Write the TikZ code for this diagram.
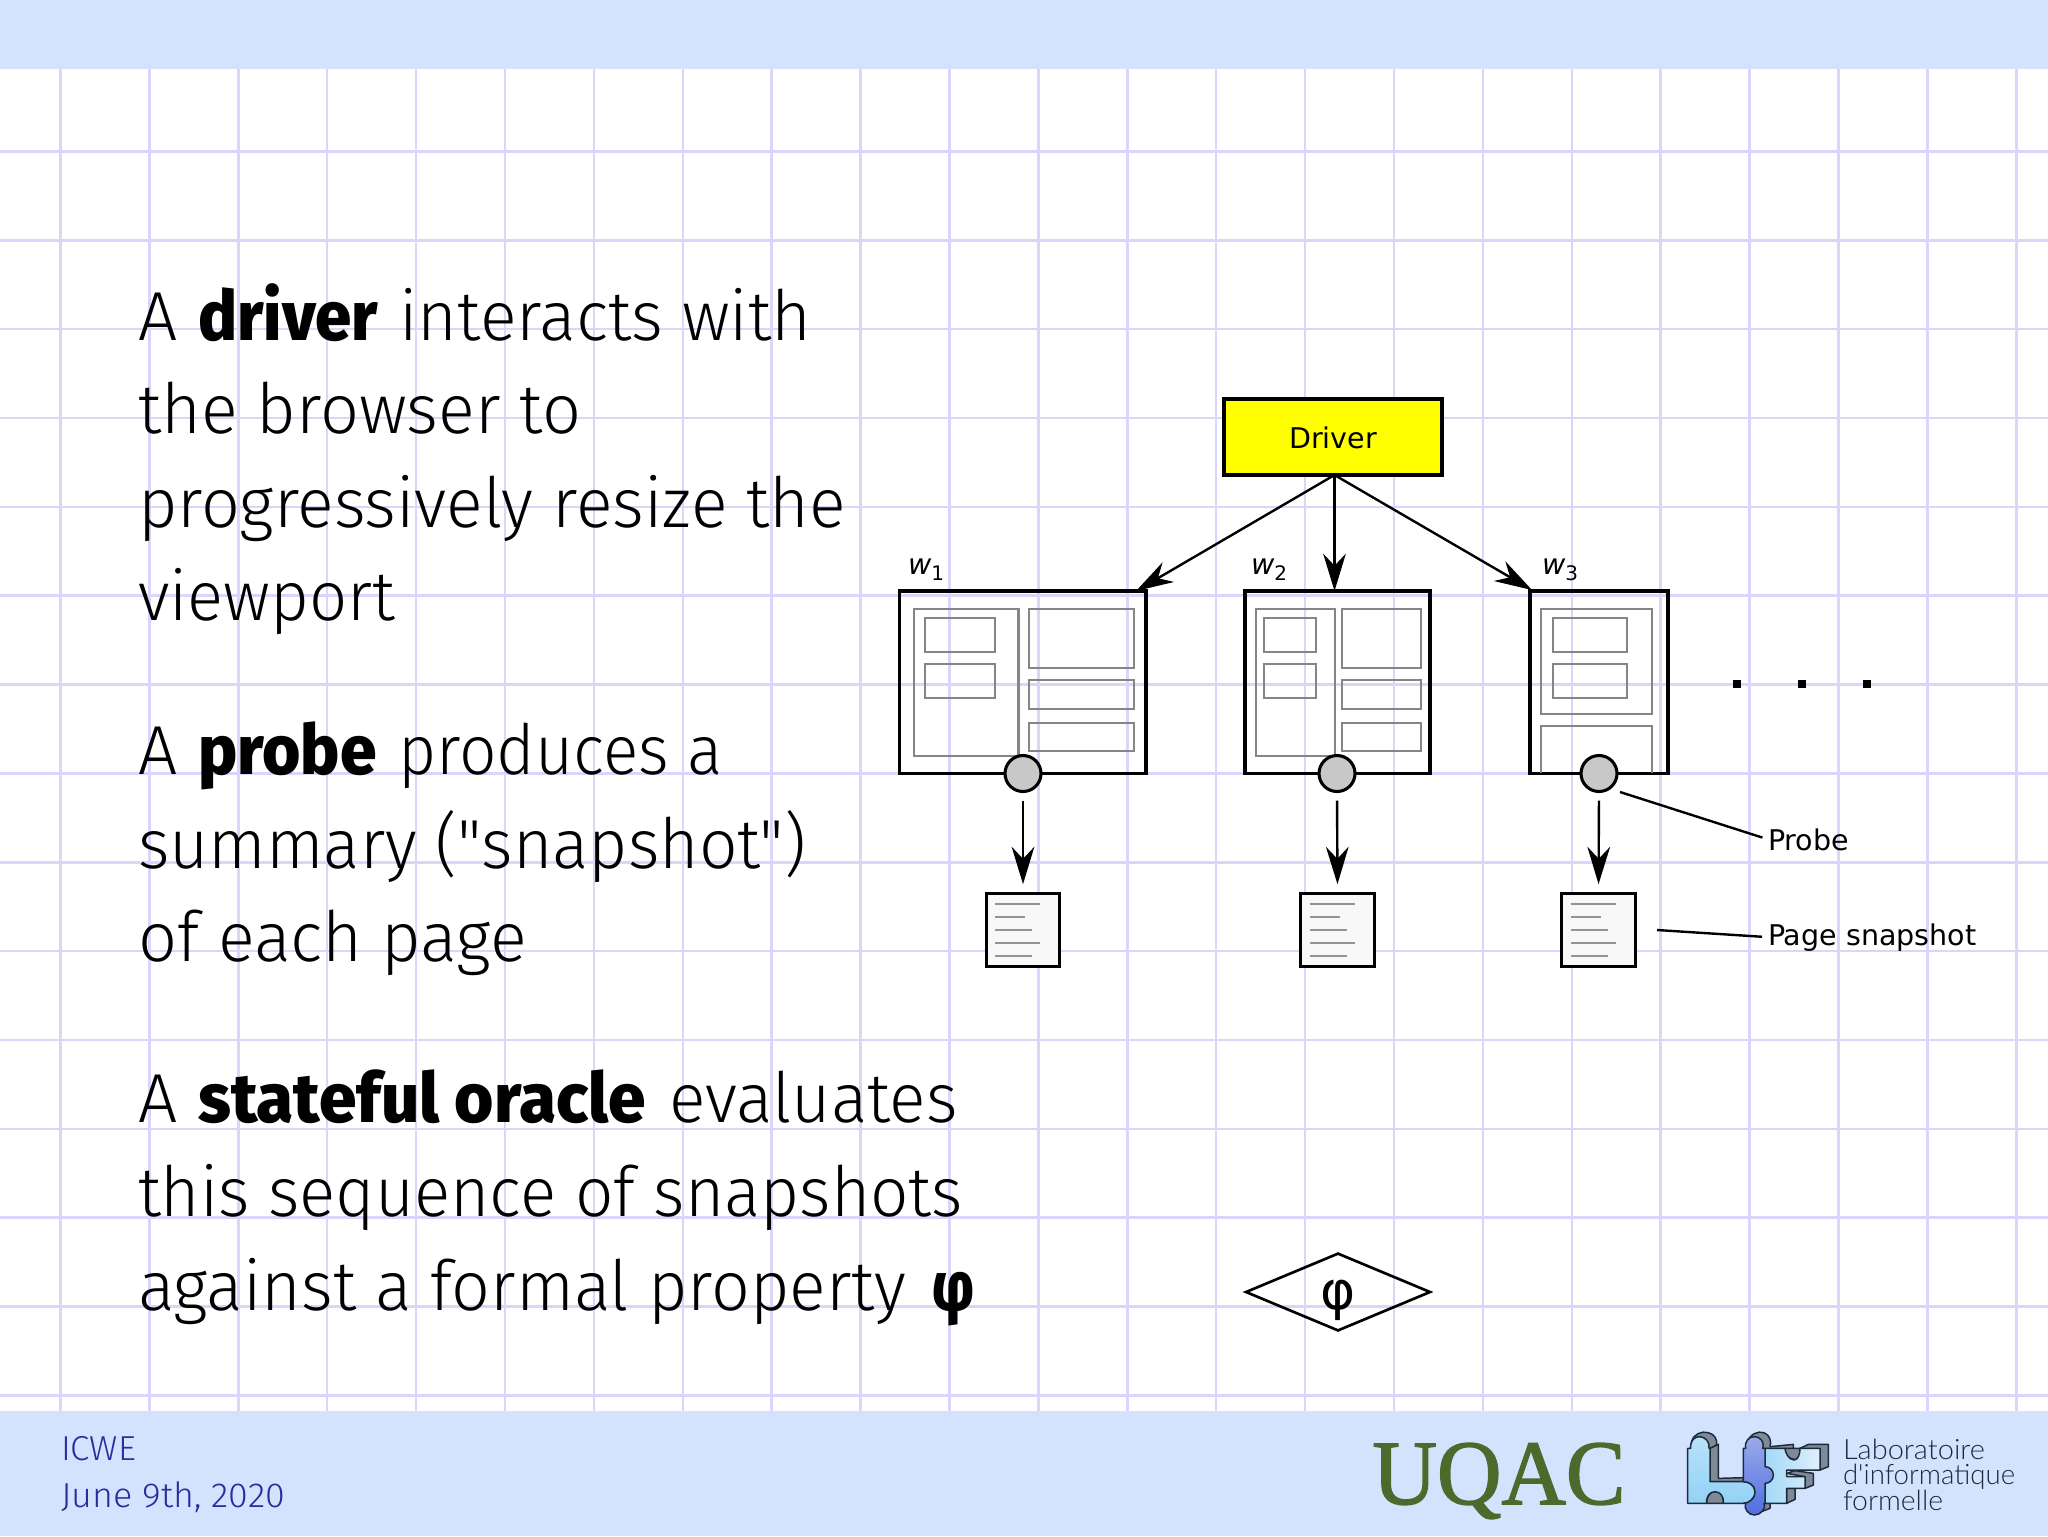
\documentclass[tikz,border=0pt]{standalone}
\usepackage{fontspec}
\usepackage{graphicx}
\usetikzlibrary{arrows.meta,calc,shapes.geometric}
\setmainfont{Fira Sans}
\newfontfamily\bodyf[UprightFont=* Light,BoldFont=* ExtraBold]{Fira Sans}
\newfontfamily\diagf{DejaVu Sans}
\newfontfamily\uqacf[FakeBold=1.6]{Liberation Serif}
\newfontfamily\labf{Lato Light}
\newdimen\pxu \pxu=.375pt
\definecolor{bandc}{HTML}{D4E3FD}
\definecolor{gridc}{HTML}{DAD6FB}
\definecolor{innerc}{HTML}{858585}
\definecolor{probec}{HTML}{C8C8C8}
\definecolor{docc}{HTML}{F8F8F8}
\definecolor{doclinec}{HTML}{949494}
\definecolor{footc}{HTML}{2B2B9E}
\definecolor{uqacc}{HTML}{4A6B2C}
\definecolor{labc}{HTML}{1C2A3A}
\definecolor{extrudec}{HTML}{7E8A98}
\definecolor{drvc}{HTML}{FFFF00}
\definecolor{lfa}{HTML}{B8E2FA}
\definecolor{lfb}{HTML}{92D2F6}
\definecolor{ffa}{HTML}{A3D9F7}
\definecolor{ffb}{HTML}{DFF0FD}
\definecolor{ifa}{HTML}{9BAAEC}
\definecolor{ifb}{HTML}{4F6EE0}
\tikzset{
  gridline/.style={gridc,line width=.95pt},
  bodyline/.style={anchor=base west,inner sep=0pt,outer sep=0pt,font=\bodyf\fontsize{26}{30}\selectfont,text=black},
  footline/.style={anchor=base west,inner sep=0pt,outer sep=0pt,font=\bodyf\fontsize{13}{15}\selectfont,text=footc},
  winbox/.style={draw=black,line width=1.15pt,inner sep=0pt,outer sep=0pt,rectangle},
  inner/.style={draw=innerc,line width=1pt,line join=miter},
  probe/.style={circle,draw=black,line width=1.15pt,fill=probec,minimum size=13.5pt,inner sep=0pt,outer sep=0pt},
  docbox/.style={draw=black,line width=1.1pt,fill=docc,rectangle,inner sep=0pt,outer sep=0pt,minimum width=27.6pt,minimum height=27.6pt},
  docline/.style={doclinec,line width=.75pt},
  arr/.style={draw=black,line width=.9pt,-{Stealth[length=14pt,width=8.5pt,inset=4.5pt]}},
  leader/.style={draw=black,line width=.9pt},
  diaglabel/.style={anchor=base west,inner sep=0pt,outer sep=0pt,font=\diagf\fontsize{10.7}{13}\selectfont},
  logotext/.style={anchor=base west,inner sep=0pt,outer sep=0pt,text=labc,font=\labf\fontsize{10.5}{13}\selectfont},
  front/.style={draw=labc,line width=.55pt,line join=round},
  back/.style={draw=labc,line width=.55pt,line join=round,fill=extrudec},
}
\newcommand{\rectn}[6]{\node[#2,minimum width={(#5-#3)*.375pt},minimum height={(#6-#4)*.375pt}] (#1) at ({(#3+#5)/2},{(#4+#6)/2}) {};}
\newcommand{\fitw}[2]{\resizebox{#1\pxu}{\height}{#2}}
% A <bold word(s)> <rest>: widths in pixels of the bold part, the gap and the rest
\newcommand{\leadline}[5]{\makebox[60.5\pxu][l]{A}\fitw{#1}{\textbf{#2}}\hspace{#3\pxu}\fitw{#4}{#5}}
\newcommand{\docglyph}[1]{%
  \draw[docline] ($(#1)+(-28,-26)$) -- ++(45,0);
  \draw[docline] ($(#1)+(-28,-13)$) -- ++(30,0);
  \draw[docline] ($(#1)+(-28,0)$) -- ++(37,0);
  \draw[docline] ($(#1)+(-28,13)$) -- ++(45,0);
  \draw[docline] ($(#1)+(-28,26)$) -- ++(37,0);
}
\begin{document}
\begin{tikzpicture}[x=.375pt,y=-.375pt]
\useasboundingbox (0,0) rectangle (2048,1536);
\fill[white] (0,0) rectangle (2048,1536);
% grid
\foreach \k in {0,...,22} \draw[gridline] ({60.5+88.9*\k},69) -- ({60.5+88.9*\k},1411);
\foreach \k in {0,...,14} \draw[gridline] (0,{151.5+88.85*\k}) -- (2048,{151.5+88.85*\k});
% bands
\fill[bandc] (0,0) rectangle (2048,69);
\fill[bandc] (0,1411) rectangle (2048,1536);
% body text
\node[bodyline] (t1) at (138,340) {\leadline{180}{driver}{21}{412}{interacts with}};
\node[bodyline] (t2) at (138,433) {\fitw{443}{the browser to}};
\node[bodyline] (t3) at (138,527) {\fitw{708}{progressively resize the}};
\node[bodyline] (t4) at (138,620) {\fitw{257}{viewport}};
\node[bodyline] (t5) at (138,774) {\leadline{178}{probe}{22}{324}{produces a}};
\node[bodyline] (t6) at (138,868) {\fitw{668}{summary ("snapshot")}};
\node[bodyline] (t7) at (138,961) {\fitw{389}{of each page}};
\node[bodyline] (t8) at (138,1122) {\leadline{447}{stateful oracle}{24}{288}{evaluates}};
\node[bodyline] (t9) at (138,1216) {\fitw{825}{this sequence of snapshots}};
\node[bodyline] (t10) at (138,1310) {\fitw{768}{against a formal property}\hspace{26\pxu}\fitw{42}{\textbf{φ}}};
% footer
\node[footline] (f1) at (61,1460) {\fitw{75}{ICWE}};
\node[footline] (f2) at (61,1507) {\fitw{224}{June 9th, 2020}};
\node[anchor=base west,inner sep=0pt,text=uqacc,font=\uqacf\fontsize{34.5}{40}\selectfont] (uqac) at (1372,1504) {\resizebox{253\pxu}{\height}{UQAC}};
\node[logotext] (lab1) at (1843,1459) {\fitw{142}{Laboratoire}};
\node[logotext] (lab2) at (1843,1484) {\fitw{172}{d'informatique}};
\node[logotext] (lab3) at (1843,1510) {\fitw{100}{formelle}};
% LIF logo
\begin{scope}[shift={(1660,1410)},x=.125pt,y=-.125pt]
  % extrusions
  \draw[back] (95,95) .. controls (100,72) and (125,62) .. (145,68) .. controls (165,72) and (172,90) .. (170,105) -- (147,118) -- cycle;
  \draw[back] (150,115) -- (175,103) -- (175,205) -- (250,203) -- (250,215) -- (150,215) -- cycle;
  \draw[back] (140,280) .. controls (140,255) and (150,245) .. (170,243) .. controls (185,245) and (192,265) .. (190,280) -- cycle;
  \draw[back] (262,95) .. controls (270,72) and (295,62) .. (312,68) .. controls (330,75) and (335,95) .. (330,110) -- (400,103) -- (400,125) -- (315,125) -- cycle;
  \draw[back] (420,115) -- (445,103) -- (505,103) -- (505,170) -- (480,180) -- cycle;
  \draw[back] (375,115) .. controls (375,140) and (395,155) .. (420,145) -- (420,115) -- cycle;
  \draw[back] (380,190) -- (405,182) -- (460,190) -- (460,225) -- (435,235) -- (435,200) -- cycle;
  \draw[back] (380,280) -- (405,268) -- (405,235) -- (380,235) -- cycle;
  \draw[back] (285,312) -- (330,295) -- (330,280) -- (290,280) -- cycle;
  % L
  \draw[front,top color=lfa,bottom color=lfb]
    (83,115) -- (92,115) .. controls (90,90) and (105,80) .. (118,80) .. controls (135,80) and (150,95) .. (147,115) -- (150,115) -- (150,215) -- (250,215)
    .. controls (265,215) and (285,225) .. (285,245) .. controls (285,268) and (265,280) .. (250,280) -- (190,280) .. controls (192,258) and (180,245) .. (165,245) .. controls (150,245) and (138,258) .. (140,280) -- (83,280) -- cycle;
  % F
  \draw[front,left color=ffa,right color=ffb]
    (315,115) -- (375,115) .. controls (375,125) and (385,150) .. (402,150) .. controls (415,150) and (420,130) .. (420,115) -- (480,115) -- (480,180) -- (380,180) -- (380,200) -- (435,200) -- (435,235) -- (380,235) -- (380,280) -- (315,280) -- cycle;
  % I
  \draw[front,top color=ifa,bottom color=ifb]
    (250,115) -- (257,115) .. controls (253,92) and (268,80) .. (283,80) .. controls (300,80) and (315,95) .. (308,115) -- (315,115) -- (315,170) .. controls (330,170) and (340,182) .. (340,195) .. controls (340,208) and (330,220) .. (315,220) -- (315,280) -- (312,280) .. controls (320,295) and (302,315) .. (283,315) .. controls (265,315) and (250,295) .. (257,280) -- (250,280) .. controls (265,280) and (285,268) .. (285,245) .. controls (285,225) and (265,215) .. (250,215) -- cycle;
\end{scope}
% driver
\rectn{driver}{winbox,fill=drvc}{1224}{399}{1442}{475}
\node[anchor=base,inner sep=0pt,font=\diagf\fontsize{10.7}{13}\selectfont] (driverlab) at (driver.center |- 0,448) {Driver};
% windows
\rectn{w1}{winbox}{899.5}{591}{1146}{773.5}
\rectn{w2}{winbox}{1245}{591}{1430}{773.5}
\rectn{w3}{winbox}{1530}{591}{1668}{773.5}
% w1 content
\draw[inner] (914,609) rectangle (1018.5,756);
\draw[inner] (925,618) rectangle (995,652);
\draw[inner] (925,664) rectangle (995,698);
\draw[inner] (1029,609) rectangle (1134,668);
\draw[inner] (1029,680) rectangle (1134,709);
\draw[inner] (1029,723) rectangle (1134,751);
% w2 content
\draw[inner] (1256,609) rectangle (1335,756);
\draw[inner] (1264,618) rectangle (1316,652);
\draw[inner] (1264,664) rectangle (1316,698);
\draw[inner] (1342,609) rectangle (1421,668);
\draw[inner] (1342,680) rectangle (1421,709);
\draw[inner] (1342,723) rectangle (1421,751);
% w3 content
\draw[inner] (1541,773) -- (1541,726) -- (1652,726) -- (1652,773);
\draw[inner] (1541,609) rectangle (1652,714);
\draw[inner] (1553,618) rectangle (1627,652);
\draw[inner] (1553,664) rectangle (1627,698);
% labels
\node[diaglabel] (wl1) at (908,574) {\textit{w}\raisebox{-.22em}{\fontsize{7.5}{9}\selectfont 1}};
\node[diaglabel] (wl2) at (1251,574) {\textit{w}\raisebox{-.22em}{\fontsize{7.5}{9}\selectfont 2}};
\node[diaglabel] (wl3) at (1542,574) {\textit{w}\raisebox{-.22em}{\fontsize{7.5}{9}\selectfont 3}};
% probes and snapshots
\node[probe] (p1) at (1023,773.5) {};
\node[probe] (p2) at (1337,773.5) {};
\node[probe] (p3) at (1599,773.5) {};
\node[docbox] (d1) at (1023,930) {};
\node[docbox] (d2) at (1337.5,930) {};
\node[docbox] (d3) at (1598.5,930) {};
\docglyph{d1}\docglyph{d2}\docglyph{d3}
% connectors
\coordinate (drvout) at ($(driver.south)+(1.5,0)$);
\coordinate (w1tip) at ($(w1.north east)+(-10,0)$);
\coordinate (w2tip) at (drvout |- w2.north);
\coordinate (w3tip) at ($(w3.north west)+(2,-1)$);
\draw[arr] (drvout) -- (w1tip);
\draw[arr] (drvout) -- (w2tip);
\draw[arr] (drvout) -- (w3tip);
\draw[arr,shorten <=3.4pt,shorten >=3.4pt] (p1.south) -- (d1.north);
\draw[arr,shorten <=3.4pt,shorten >=3.4pt] (p2.south) -- (d2.north);
\draw[arr,shorten <=3.4pt,shorten >=3.4pt] (p3.south) -- (d3.north);
% dots
\foreach \n/\xx in {e1/1737,e2/1802,e3/1867} \fill[black] (\xx-4,680) rectangle (\xx+4,688);
% callouts
\node[diaglabel] (probelab) at (1768,850) {Probe};
\node[diaglabel] (snaplab) at (1768,945) {Page snapshot};
\coordinate (probetail) at (1620,792);
\coordinate (snaptail) at (1657,930);
\draw[leader,shorten >=2.2pt] (probetail) -- (probelab.west);
\draw[leader,shorten >=2.2pt] (snaptail) -- (snaplab.west);
% diamond
\node[diamond,draw=black,line width=1pt,shape aspect=2.4,inner sep=0pt,outer sep=0pt,minimum width=69pt,minimum height=28.8pt] (phi) at (1338,1292) {};
\node[anchor=base,inner sep=0pt,font=\diagf\fontsize{20}{24}\selectfont] (philab) at (1338,1309) {φ};
\end{tikzpicture}
\end{document}
